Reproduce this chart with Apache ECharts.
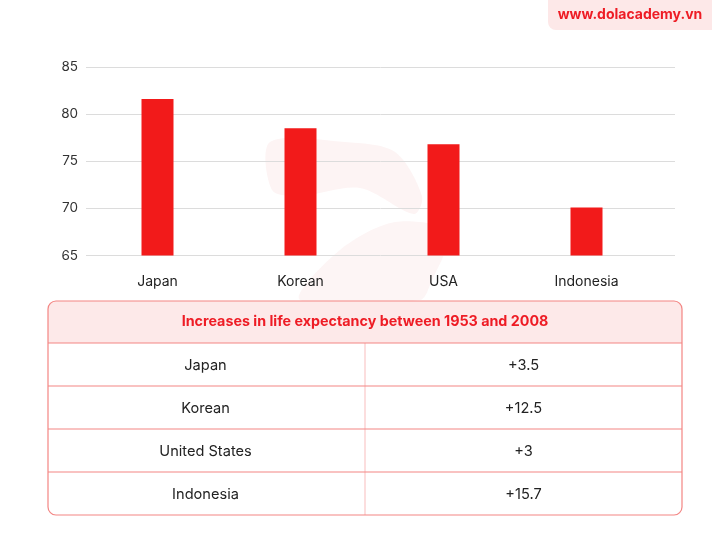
<!DOCTYPE html>
<html>
<head>
<meta charset="utf-8">
<script src="https://cdn.jsdelivr.net/npm/echarts@6/dist/echarts.min.js"></script>
<style>
  html, body { margin: 0; padding: 0; background: #fff; }
  #main { width: 712px; height: 534px; }
</style>
</head>
<body>
<div id="main"></div>
<script>
var countries = ['Japan', 'Korean', 'USA', 'Indonesia'];
var lifeExpectancy = [81.6, 78.5, 76.8, 70.1];
var yTicks = { min: 65, max: 85, step: 5 };

var tableTitle = 'Increases in life expectancy between 1953 and 2008';
var tableCountries = ['Japan', 'Korean', 'United States', 'Indonesia'];
var tableIncreases = ['+3.5', '+12.5', '+3', '+15.7'];

var RED = '#f21a1a';
var BORDER = '#f38583';
var FONT = 'Inter, "Noto Sans", sans-serif';

// table layout
var tX = 48, tY = 301, tW = 634, headH = 42, rowH = 43;
var colX = 365;

var graphics = [];

// faint logo watermark behind the chart
graphics.push({
  type: 'polygon', silent: true, z: -10,
  shape: { smooth: 0.3, points: [[270, 142], [345, 142], [395, 152], [422, 196], [414, 214], [360, 188], [300, 196], [272, 190]] },
  style: { fill: '#fdf4f4' }
});
graphics.push({
  type: 'polygon', silent: true, z: -10,
  shape: { smooth: 0.3, points: [[300, 300], [340, 250], [395, 222], [448, 232], [430, 285], [420, 300]] },
  style: { fill: '#fdf5f5' }
});

// website badge
graphics.push({
  type: 'rect', shape: { x: 548, y: -10, width: 180, height: 40, r: 8 },
  style: { fill: '#fde8e8' }
});
graphics.push({
  type: 'text', x: 630, y: 15,
  style: { text: 'www.dolacademy.vn', fill: '#ee1c25', font: 'bold 14px ' + FONT, align: 'center', verticalAlign: 'middle' }
});

// table header + frame
var tH = headH + rowH * tableCountries.length;
graphics.push({
  type: 'rect', shape: { x: tX, y: tY, width: tW, height: headH, r: [8, 8, 0, 0] },
  style: { fill: '#fde9e9' }
});
graphics.push({
  type: 'line', shape: { x1: colX, y1: tY + headH, x2: colX, y2: tY + tH },
  style: { stroke: '#fcdede', lineWidth: 2 }
});
for (var i = 0; i < tableCountries.length; i++) {
  var ry = tY + headH + rowH * i;
  graphics.push({
    type: 'line', shape: { x1: tX, y1: ry, x2: tX + tW, y2: ry },
    style: { stroke: BORDER, lineWidth: 1.2 }
  });
  graphics.push({
    type: 'text', x: (tX + colX) / 2 - 1, y: ry + rowH / 2 + 1,
    style: { text: tableCountries[i], fill: '#222', font: '14.6px ' + FONT, align: 'center', verticalAlign: 'middle' }
  });
  graphics.push({
    type: 'text', x: (colX + tX + tW) / 2, y: ry + rowH / 2 + 1,
    style: { text: tableIncreases[i], fill: '#222', font: '14.6px ' + FONT, align: 'center', verticalAlign: 'middle' }
  });
}
graphics.push({
  type: 'rect', shape: { x: tX, y: tY, width: tW, height: tH, r: 8 },
  style: { fill: null, stroke: BORDER, lineWidth: 1.2 }
});
graphics.push({
  type: 'text', x: tX + tW / 2, y: tY + headH / 2,
  style: { text: tableTitle, fill: '#ee1c25', font: 'bold 14.3px ' + FONT, align: 'center', verticalAlign: 'middle' }
});

var chart = echarts.init(document.getElementById('main'), null, { renderer: 'canvas' });
chart.setOption({
  backgroundColor: '#fff',
  animation: false,
  textStyle: { fontFamily: FONT },
  grid: [
    { left: 86, right: 37, top: 67, bottom: 278.5 },
    { left: 86, right: 54, top: 67, bottom: 278.5 }
  ],
  xAxis: [
    { gridIndex: 0, type: 'value', show: false },
    {
      gridIndex: 1, type: 'category', data: countries,
      axisLine: { show: false }, axisTick: { show: false },
      axisLabel: { margin: 19, fontSize: 14, color: '#222', fontFamily: FONT }
    }
  ],
  yAxis: [
    {
      gridIndex: 0, type: 'value', min: yTicks.min, max: yTicks.max, interval: yTicks.step,
      axisLine: { show: false }, axisTick: { show: false },
      axisLabel: { margin: 8, fontSize: 13.5, color: '#333', fontFamily: FONT },
      splitLine: { lineStyle: { color: '#dcdcdc', width: 1 } }
    },
    {
      gridIndex: 1, type: 'value', min: yTicks.min, max: yTicks.max, interval: yTicks.step,
      show: false, splitLine: { show: false }
    }
  ],
  series: [{
    type: 'bar', xAxisIndex: 1, yAxisIndex: 1,
    data: lifeExpectancy, barWidth: 32,
    itemStyle: { color: RED }
  }],
  graphic: graphics
});
</script>
</body>
</html>
